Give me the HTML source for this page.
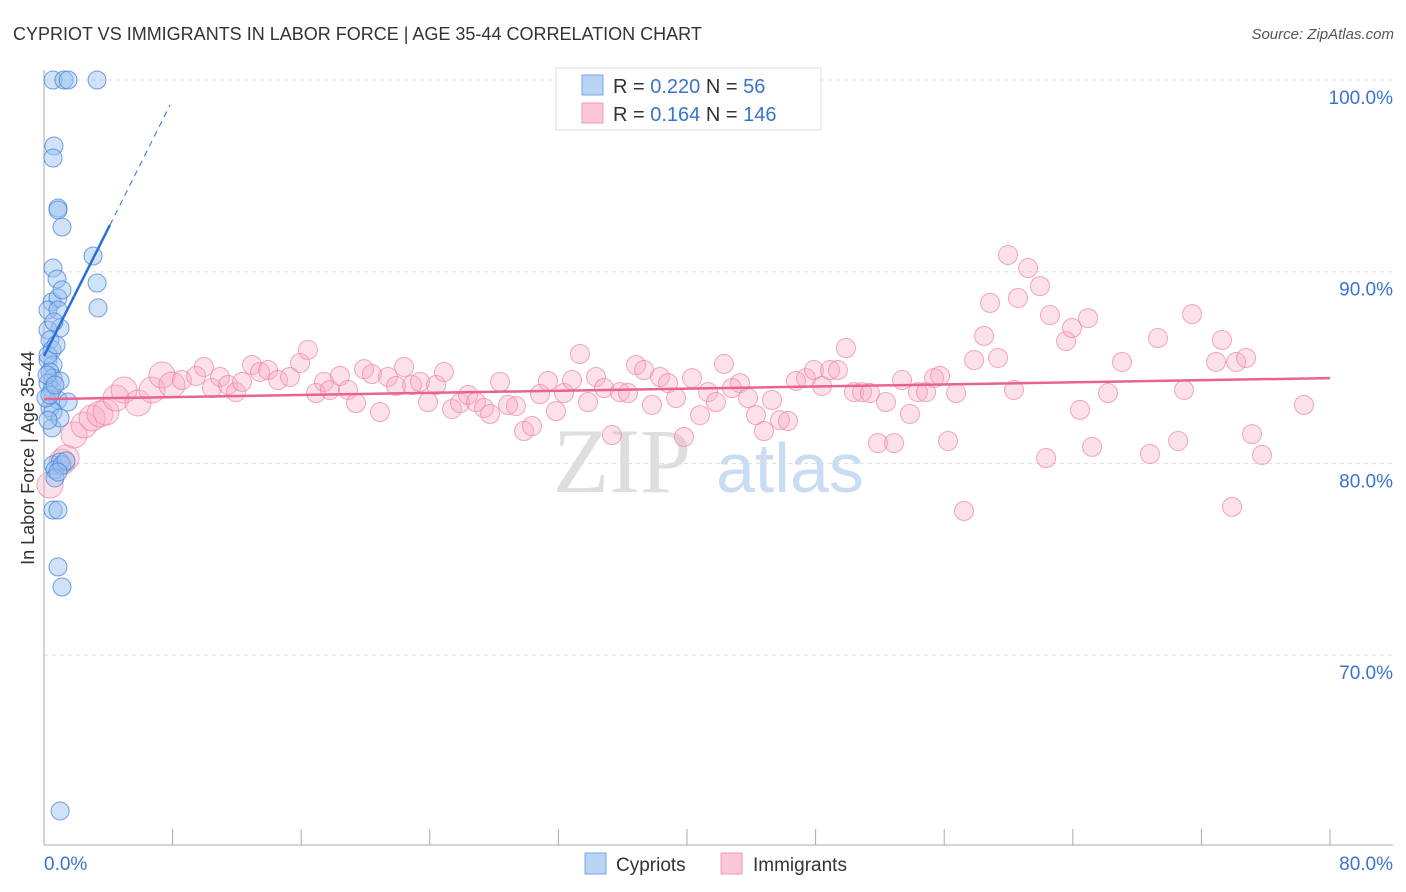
<!DOCTYPE html>
<html><head><meta charset="utf-8"><style>
body{margin:0;background:#fff;font-family:"Liberation Sans",sans-serif}
svg{display:block}
</style></head><body>
<svg id="chart" width="1406" height="892" viewBox="0 0 1406 892" xmlns="http://www.w3.org/2000/svg">
<text x="13" y="40" font-size="18" fill="#333">CYPRIOT VS IMMIGRANTS IN LABOR FORCE | AGE 35-44 CORRELATION CHART</text>
<text x="1394" y="39" font-size="15" fill="#555" text-anchor="end" font-style="italic">Source: ZipAtlas.com</text>
<g>
<text x="553" y="492" font-size="92" font-family="Liberation Serif,serif" fill="#dedede">ZIP</text>
<text x="716" y="492" font-size="70" fill="#c9dcf3">atlas</text>
</g>
<g id="grid"></g>
<g id="axes"></g>
<g id="pink"></g>
<g id="blue"></g>
<g id="trends"></g>
<text transform="translate(34,458) rotate(-90)" font-size="18" fill="#333" text-anchor="middle">In Labor Force | Age 35-44</text>
<g>
<rect x="556" y="68" width="265" height="62" fill="#fff" stroke="#ddd"/>
<rect x="582" y="75" width="21" height="20" fill="#b9d3f5" stroke="#7aa6e2"/>
<rect x="582" y="103" width="21" height="20" fill="#fcc7d6" stroke="#ee9ab3"/>
<text x="613" y="93" font-size="20" fill="#333">R = <tspan fill="#3a74d0">0.220</tspan>   N =  <tspan fill="#3a74d0">56</tspan></text>
<text x="613" y="121" font-size="20" fill="#333">R =  <tspan fill="#3a74d0">0.164</tspan>   N = <tspan fill="#3a74d0">146</tspan></text>
</g>
<g>
<rect x="585" y="853" width="21" height="21" fill="#b9d3f5" stroke="#7aa6e2"/>
<text x="616" y="871" font-size="19" fill="#333">Cypriots</text>
<rect x="721" y="853" width="21" height="21" fill="#fcc7d6" stroke="#ee9ab3"/>
<text x="753" y="871" font-size="19" fill="#333">Immigrants</text>
</g>
</svg>
<script>
const yTicks=[100,90,80,70];
const yTickLabels=["100.0%","90.0%","80.0%","70.0%"];
const xTicks=[0,8,16,24,32,40,48,56,64,72,80];
const xTickLabels=["0.0%","80.0%"];
const blueX=[0.56,1.24,1.5,3.3,0.62,0.56,0.87,0.87,1.12,3.05,0.56,0.81,3.3,3.36,0.5,0.87,0.25,0.87,1.0,0.25,0.37,0.5,0.25,0.56,0.37,0.56,0.25,0.5,1.0,0.87,1.5,0.37,0.56,0.5,1.0,0.25,0.56,1.0,0.68,1.12,0.68,0.56,0.87,0.87,1.12,1.0,0.25,0.75,0.12,0.37,0.62,1.12,0.19,0.68,1.37,0.87];
const blueY=[100,100,100,100,96.56,95.93,93.32,93.22,92.33,90.82,90.19,89.62,89.41,88.11,88.42,88.63,88.0,88.0,87.06,86.96,86.44,85.92,85.39,85.13,84.77,84.45,84.19,83.83,84.30,83.31,83.20,82.89,82.68,81.85,82.37,82.26,79.92,80.07,79.66,79.92,79.24,77.57,77.57,74.60,73.55,61.87,85.65,86.18,83.41,83.57,87.38,89.05,84.61,84.09,80.13,79.55];
const pinkX=[0.37,1.12,1.37,1.87,2.49,2.99,3.48,3.86,4.48,4.98,5.85,6.72,7.34,7.96,8.58,9.46,9.95,10.45,10.95,11.45,11.94,12.32,12.94,13.44,13.94,14.56,15.30,15.93,16.42,16.92,17.42,17.79,18.41,18.91,19.41,19.91,20.40,20.90,21.40,21.90,22.40,22.89,23.39,23.89,24.39,24.88,25.38,25.88,26.38,26.87,27.37,27.75,28.37,28.87,29.36,29.86,30.36,30.86,31.35,31.85,32.35,32.85,33.34,33.84,34.34,34.84,35.33,35.83,36.33,36.83,37.33,37.82,38.32,38.82,39.32,39.81,40.31,40.81,41.31,41.80,42.30,42.80,43.30,43.80,44.29,44.79,45.29,45.79,46.28,46.78,47.40,47.90,48.40,48.90,49.39,49.89,50.39,50.89,51.38,51.88,52.38,52.88,53.38,53.87,54.37,54.87,55.37,55.74,56.24,56.74,57.23,57.86,58.48,58.85,59.35,59.97,60.34,60.59,61.22,61.96,62.34,62.58,63.58,63.95,64.45,64.95,65.20,66.19,67.06,68.80,69.30,70.55,70.92,71.42,72.91,73.28,73.91,74.16,74.78,75.15,75.77,78.38];
const pinkY=[78.87,80.07,80.28,81.48,82.00,82.37,82.58,82.68,83.41,83.83,83.15,83.83,84.61,84.09,84.35,84.56,85.03,83.93,84.51,84.09,83.72,84.25,85.13,84.77,84.87,84.35,84.51,85.24,85.92,83.67,84.25,83.83,84.56,83.83,83.15,84.92,84.66,82.68,84.51,84.04,85.03,84.09,84.25,83.20,84.09,84.77,82.84,83.15,83.57,83.20,82.89,82.58,84.25,83.05,82.99,81.69,81.95,83.62,84.30,82.73,83.67,84.35,85.71,83.20,84.51,83.93,81.48,83.72,83.67,85.13,84.87,83.05,84.51,84.19,83.41,81.38,84.45,82.52,83.72,83.20,85.19,83.93,84.19,83.41,82.52,81.69,83.31,82.26,82.21,84.30,84.45,84.87,84.04,84.87,84.87,86.02,83.72,83.72,83.67,81.06,83.20,81.06,84.35,82.58,83.72,83.72,84.45,84.56,81.17,83.67,77.52,85.39,86.65,88.37,85.50,90.87,83.83,88.63,90.19,89.25,80.28,87.74,86.38,87.06,82.79,87.58,80.86,83.67,85.29,80.49,86.54,81.17,83.83,87.79,85.29,86.44,77.73,85.29,85.50,81.53,80.44,83.05];
const blueTrend=[[0,85.6],[4.1,92.43]];
const blueTrendDash=[[4.1,92.43],[7.84,98.7]];
const pinkTrend=[[0,83.35],[80,84.45]];
const NS="http://www.w3.org/2000/svg";
const X=v=>44+v*16.075, Y=v=>80+(100-v)*19.17;
function mk(t,a,p){const e=document.createElementNS(NS,t);for(const k in a)e.setAttribute(k,a[k]);p.appendChild(e);return e;}
const grid=document.getElementById('grid'),axes=document.getElementById('axes');
yTicks.forEach((t,i)=>{
 const l=mk('line',{x1:44,x2:1393,y1:Y(t),y2:Y(t),stroke:'#ddd','stroke-dasharray':'4,4'},grid);
 
 
 const tx=mk('text',{x:1393,y:Y(t)+24,'font-size':19,fill:'#3a74d0','text-anchor':'end'},axes);tx.textContent=yTickLabels[i];
 
 
});
mk('line',{x1:44,x2:44,y1:70,y2:845,stroke:'#aaa'},axes);
mk('line',{x1:44,x2:1393,y1:845,y2:845,stroke:'#aaa'},axes);
xTicks.forEach(t=>{const l=mk('line',{x1:X(t),x2:X(t),y1:829,y2:845,stroke:'#aaa'},axes);
 
 });
let a=mk('text',{x:44,y:870,'font-size':19,fill:'#3a74d0'},axes);a.textContent=xTickLabels[0];


a=mk('text',{x:1393,y:870,'font-size':19,fill:'#3a74d0','text-anchor':'end'},axes);a.textContent=xTickLabels[1];


const pink=document.getElementById('pink'),blue=document.getElementById('blue');
pinkX.forEach((x,i)=>{const r=x<8?13:9.5;const c=mk('circle',{cx:X(x),cy:Y(pinkY[i]),r:r,fill:'rgba(248,170,195,0.35)',stroke:'rgba(236,130,165,0.7)','stroke-width':1},pink);
 
 });
blueX.forEach((x,i)=>{const c=mk('circle',{cx:X(x),cy:Y(blueY[i]),r:9,fill:'rgba(150,190,240,0.45)',stroke:'rgba(70,130,215,0.75)','stroke-width':1},blue);
 
 });
const tr=document.getElementById('trends');
let l=mk('line',{x1:X(pinkTrend[0][0]),y1:Y(pinkTrend[0][1]),x2:X(pinkTrend[1][0]),y2:Y(pinkTrend[1][1]),stroke:'#e8648f','stroke-width':2.5},tr);


l=mk('line',{x1:X(blueTrend[0][0]),y1:Y(blueTrend[0][1]),x2:X(blueTrend[1][0]),y2:Y(blueTrend[1][1]),stroke:'#2a6fd6','stroke-width':2.5},tr);


l=mk('line',{x1:X(blueTrendDash[0][0]),y1:Y(blueTrendDash[0][1]),x2:X(blueTrendDash[1][0]),y2:Y(blueTrendDash[1][1]),stroke:'#2a6fd6','stroke-width':1,'stroke-dasharray':'6,5'},tr);


</script>
</body></html>
